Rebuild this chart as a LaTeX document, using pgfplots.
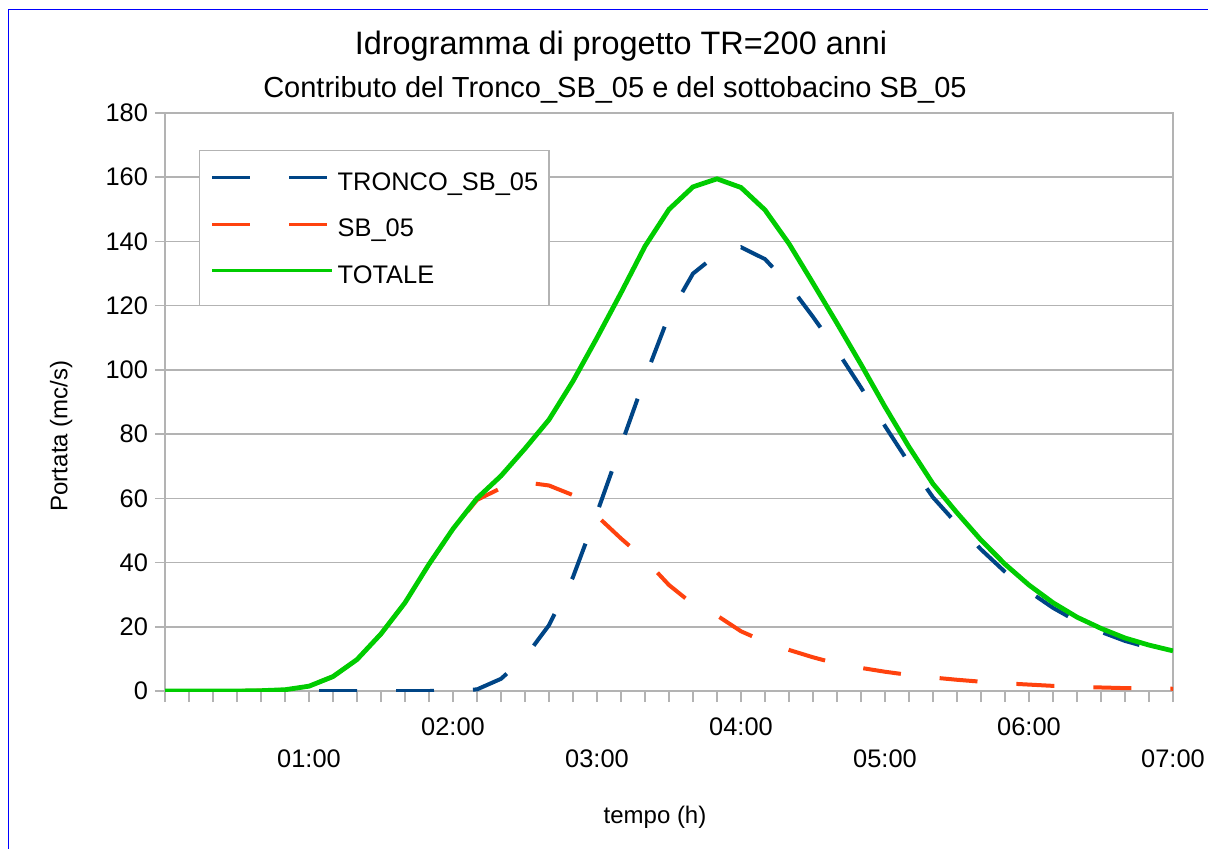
\documentclass[border=0pt]{standalone}
\usepackage{pgfplots}
\usepackage{pgfplotstable}
\pgfplotsset{compat=1.18}
\usepackage{fontspec}
\setmainfont{Liberation Sans}
\definecolor{cblue}{HTML}{004586}
\definecolor{corange}{HTML}{FF420E}
\definecolor{cgreen}{HTML}{00CC00}
\definecolor{cgrid}{HTML}{B3B3B3}
\pgfplotstableread{
t T S G
0 0 0 0
10 0 0 0
20 0 0 0
30 0 0 0
40 0 0.1 0.1
50 0 0.4 0.4
60 0 1.5 1.5
70 0 4.5 4.5
80 0 9.8 9.8
90 0 17.8 17.8
100 0 27.5 27.5
110 0 39.5 39.5
120 0.1 50.4 50.5
130 0.5 59.5 60
140 3.8 63.2 67
150 10.5 65.0 75.5
160 20.5 64.0 84.5
170 35.5 61.0 96.5
180 55.5 54.5 110
190 76.5 47.5 124
200 97.5 41.0 138.5
210 117 33 150
220 130 27 157
230 136 23.5 159.5
240 138.2 18.6 156.8
250 134.5 15.3 149.8
260 126.5 12.8 139.3
270 116.5 10.5 127
280 106 8.5 114.5
290 94.5 7.2 101.7
300 82.5 6 88.5
310 71 5 76
320 60.3 4.2 64.5
330 52 3.5 55.5
340 44.1 2.9 47
350 37.1 2.4 39.5
360 31 2 33
370 25.9 1.6 27.5
380 21.7 1.3 23
390 18.4 1.1 19.5
400 15.6 0.9 16.5
410 13.5 0.8 14.3
420 11.8 0.7 12.5
}\data
\begin{document}
\begin{tikzpicture}
\useasboundingbox (-82.5pt,-78.5pt) rectangle (521.5pt,345.5pt);
\draw[blue, line width=0.6pt] (-78.25pt,-90pt) -- (-78.25pt,340.75pt) -- (530pt,340.75pt);
\begin{axis}[
  at={(0pt,0pt)}, anchor=south west,
  scale only axis, width=504pt, height=289pt,
  xmin=0, xmax=420, ymin=0, ymax=180,
  axis line style={cgrid, line width=0.75pt},
  ytick={0,20,...,180},
  ymajorgrids, major grid style={cgrid, line width=0.75pt},
  xtick={120,240,360}, xticklabels={02:00,04:00,06:00},
  xticklabel style={yshift=-5pt},
  extra x ticks={60,180,300,420},
  extra x tick labels={01:00,03:00,05:00,07:00},
  extra x tick style={grid=none, xticklabel style={yshift=-16pt}},
  minor xtick={0,10,...,420},
  xtick pos=bottom, ytick pos=left,
  tick align=outside,
  major tick length=5pt, minor tick length=5.5pt,
  tick style={cgrid, line width=0.75pt},
  ticklabel style={font=\fontsize{12.7}{15}\selectfont, text=black},
  /pgf/number format/assume math mode=true,
  legend style={at={(0.0337,0.936)}, anchor=north west, draw=cgrid, line width=0.75pt,
    inner xsep=5.5pt, inner ysep=9.7pt, row sep=11.8pt,
    font=\fontsize{12.7}{15}\selectfont,
    nodes={inner sep=0pt, text height=10pt, text depth=1.5pt, anchor=west},
    /tikz/every odd column/.append style={column sep=2pt}},
  legend cell align=left,
  legend image code/.code={\draw[#1, line width=1.5pt] (0pt,2pt) -- (60pt,2pt);},
]
\addplot[cblue, line width=2pt, dash pattern=on 19pt off 19.5pt] table[x=t,y=T]{\data};
\addlegendentry{TRONCO\_SB\_05}
\addplot[corange, line width=2pt, dash pattern=on 19pt off 19.5pt] table[x=t,y=S]{\data};
\addlegendentry{SB\_05}
\addplot[cgreen, line width=2.4pt] table[x=t,y=G]{\data};
\addlegendentry{TOTALE}
\end{axis}
\node[anchor=base, font=\fontsize{16.2}{19}\selectfont] at (228pt,318.5pt) {Idrogramma di progetto TR=200 anni};
\node[anchor=base, font=\fontsize{14.5}{17}\selectfont] at (225pt,297pt) {Contributo del Tronco\_SB\_05 e del sottobacino SB\_05};
\node[anchor=base, rotate=90, font=\fontsize{12}{14}\selectfont] at (-48.75pt,127.5pt) {Portata (mc/s)};
\node[anchor=base, font=\fontsize{12}{14}\selectfont] at (245pt,-66.2pt) {tempo (h)};
\end{tikzpicture}
\end{document}
